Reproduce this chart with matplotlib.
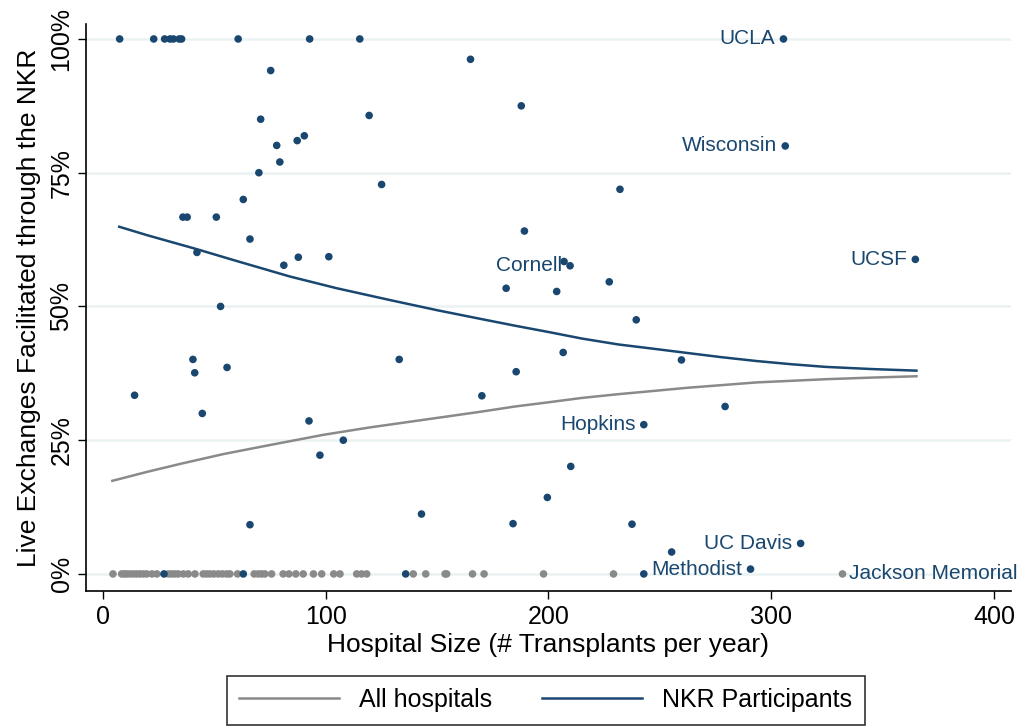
import matplotlib.pyplot as plt
import numpy as np

plt.rcParams['font.family'] = ['Liberation Sans', 'DejaVu Sans']

NAVY = '#1a476f'
GRAY = '#8a8a8a'
GRID = '#eaf2f3'

# NKR participants: hospital size vs share of live exchanges through NKR (%)
nkr_size = [7.5, 22.8, 27.7, 30.1, 31.6, 34.2, 35.3, 60.7, 92.8, 115.3,
            165.0, 75.3, 70.8, 119.5, 187.8, 78.0, 87.2, 90.4, 79.4, 70.0,
            125.1, 63.0, 35.9, 37.8, 50.9, 66.0, 42.2, 81.2, 87.7, 101.4,
            232.1, 189.2, 207.0, 181.0, 203.7, 227.3, 52.8, 239.4, 40.4, 55.7,
            133.0, 206.6, 259.7, 185.5, 41.2, 14.2, 44.6, 170.1, 279.3, 92.5,
            107.9, 97.4, 210.0, 199.5, 66.0, 143.0, 184.1, 237.5, 255.3,
            27.4, 63.0, 135.9, 242.8,
            305.5, 306.3, 364.7, 209.7, 242.8, 313.2, 290.7]
nkr_pct = [100, 100, 100, 100, 100, 100, 100, 100, 100, 100,
           96.2, 94.1, 85.0, 85.7, 87.5, 80.1, 81.0, 81.9, 77.0, 75.0,
           72.8, 70.0, 66.7, 66.7, 66.7, 62.6, 60.1, 57.7, 59.2, 59.3,
           71.9, 64.1, 58.4, 53.4, 52.8, 54.6, 50.0, 47.5, 40.1, 38.6,
           40.1, 41.4, 40.0, 37.8, 37.6, 33.4, 30.0, 33.3, 31.3, 28.6,
           25.0, 22.2, 20.1, 14.3, 9.2, 11.2, 9.4, 9.3, 4.1,
           0, 0, 0, 0,
           100, 80.0, 58.8, 57.6, 27.9, 5.7, 0.9]

# Named hospitals, labelled to the left of their marker
labels = {'UCLA': (305.5, 100), 'Wisconsin': (306.3, 80.0), 'UCSF': (364.7, 58.8),
          'Cornell': (209.7, 57.6), 'Hopkins': (242.8, 27.9),
          'UC Davis': (313.2, 5.7), 'Methodist': (290.7, 0.9)}

# Non-participating hospitals (0% through NKR)
other_size = [4.5, 8.4, 9.6, 10.6, 12.1, 13.6, 15.1, 16.6, 18.1, 19.6,
              22.0, 24.2, 29.3, 30.8, 32.3, 33.8, 36.1, 38.3, 41.3, 45.0,
              46.5, 48.0, 49.8, 51.8, 53.6, 55.5, 57.0, 60.4, 67.9, 69.7,
              71.2, 72.7, 75.7, 80.9, 83.5, 86.6, 89.9, 94.5, 98.2, 103.6,
              106.4, 113.9, 116.1, 118.4, 139.3, 144.9, 153.6, 154.3, 165.9,
              171.1, 197.8, 229.2, 332.0]
other_pct = [0] * len(other_size)

# Fitted curves
fit_nkr_x = [7.3, 20, 42.2, 60, 83.9, 105, 128.8, 150, 169.2, 185, 200.3,
             215, 231.3, 247, 262.4, 278, 293.4, 309, 324.5, 345, 365.2]
fit_nkr_y = [64.9, 63.3, 60.7, 58.5, 55.6, 53.4, 51.2, 49.3, 47.7, 46.4, 45.2,
             44.0, 42.9, 42.1, 41.3, 40.5, 39.8, 39.2, 38.7, 38.3, 38.0]
fit_all_x = [4.2, 20, 35, 54.0, 75, 98.9, 120, 143.8, 169.2, 185, 200.3,
             215, 231.3, 247, 262.4, 278, 293.4, 309, 324.5, 345, 365.2]
fit_all_y = [17.4, 19.1, 20.6, 22.4, 24.1, 26.0, 27.4, 28.8, 30.3, 31.3, 32.1,
             32.9, 33.6, 34.2, 34.8, 35.3, 35.8, 36.1, 36.4, 36.7, 36.95]

fig = plt.figure(figsize=(10.24, 7.27), dpi=100)
ax = fig.add_axes([0.084, 0.187, 0.903, 0.780])

for yv in [0, 25, 50, 75, 100]:
    ax.axhline(yv, color=GRID, lw=1.8, zorder=0)

ax.scatter(other_size, other_pct, s=30, color=GRAY, edgecolors='none', zorder=2)
ax.scatter(nkr_size, nkr_pct, s=30, color=NAVY, edgecolors='none', zorder=3)
ax.plot(fit_all_x, fit_all_y, color=GRAY, lw=1.8, label='All hospitals', zorder=4)
ax.plot(fit_nkr_x, fit_nkr_y, color=NAVY, lw=1.8, label='NKR Participants', zorder=4)

for name, (xv, yv) in labels.items():
    ax.annotate(name, (xv, yv), xytext=(-6, 0), textcoords='offset points',
                ha='right', va='center', color=NAVY, fontsize=15)
ax.annotate('Jackson Memorial', (332.0, 0), xytext=(5, 0), textcoords='offset points',
            ha='left', va='center', color=NAVY, fontsize=15)

ax.set_xlim(-7.6, 407.5)
ax.set_ylim(-3.2, 102.8)
ax.set_xticks([0, 100, 200, 300, 400])
ax.set_yticks([0, 25, 50, 75, 100])
ax.set_yticklabels(['0%', '25%', '50%', '75%', '100%'], rotation=90, va='center')
ax.tick_params(axis='both', labelsize=18, length=6, width=1, color='black')
ax.tick_params(axis='y', pad=3)
ax.tick_params(axis='x', pad=4)
for side in ['top', 'right']:
    ax.spines[side].set_visible(False)
for side in ['left', 'bottom']:
    ax.spines[side].set_linewidth(1.2)

ax.set_xlabel('Hospital Size (# Transplants per year)', fontsize=19, labelpad=3)
ax.set_ylabel('Live Exchanges Facilitated through the NKR', fontsize=19, labelpad=6)

leg = fig.legend(loc='center', bbox_to_anchor=(0.533, 0.037), ncol=2, fontsize=18,
                 frameon=True, fancybox=False, edgecolor='black', handlelength=4,
                 columnspacing=2.0, borderpad=0.5)
leg.get_frame().set_linewidth(1.2)

fig.savefig('out.png', dpi=100)
